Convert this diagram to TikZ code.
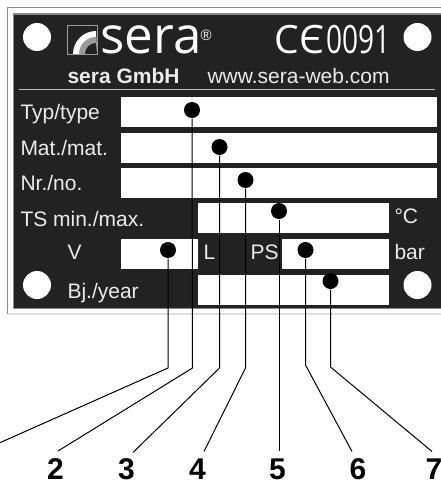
\documentclass[tikz,border=0pt]{standalone}
\usepackage{fontspec}
\setmainfont{Liberation Sans}
\newfontfamily\logofont{Open Sans}
\usetikzlibrary{positioning}
\definecolor{platecol}{HTML}{222222}
\definecolor{framecol}{HTML}{8A8A8A}
\definecolor{logocol}{HTML}{9A9A9A}
\begin{document}
\begin{tikzpicture}[
   x=1pt, y=-1pt, line width=1pt,
   plate/.style = {draw=framecol, line width=1.2pt, fill=platecol},
   field/.style = {rectangle, draw=none, fill=white, inner sep=0pt, anchor=north west},
   hole/.style = {circle, fill=white, inner sep=0pt, minimum size=28pt},
   dot/.style = {circle, fill=black, inner sep=0pt, minimum size=16pt},
   tag/.style = {anchor=base west, inner sep=0pt, text=white!92!black,
                 font=\fontsize{21}{24}\selectfont},
   num/.style = {anchor=base, inner sep=0pt, font=\fontsize{30}{30}\selectfont\bfseries}]
  \useasboundingbox (0,0) rectangle (441,482);
  % plate
  \draw[framecol, line width=0.8pt] (441,7.5) -- (7.5,7.5) -- (7.5,314);
  \draw[black!12, line width=1.2pt] (7.5,314) -- (441,314);
  \draw[plate] (443,14) -- (13.5,14) -- (13.5,308.5) -- (443,308.5);
  \draw[white!75!black, line width=1.6pt] (19,89.5) -- (435,89.5);
  \node[hole] (hole nw) at (37,37) {};
  \node[hole] (hole ne) at (417.5,37) {};
  \node[hole] (hole sw) at (37,285) {};
  \node[hole] (hole se) at (417.5,285) {};

  % logo
  \begin{scope}
    \clip (67,25) rectangle (97,54);
    \fill[white] (73,54) arc[start angle=180, end angle=270, radius=23] -- (97,54) -- cycle;
    \fill[logocol] (79,54) arc[start angle=180, end angle=270, radius=17] -- (97,54) -- cycle;
    \fill[platecol] (85,54) arc[start angle=180, end angle=270, radius=11] -- (97,54) -- cycle;
  \end{scope}
  \draw[logocol, line width=1pt] (67,25) rectangle (97,54);
  \node[anchor=base west, inner sep=0pt, text=white, font=\logofont\fontsize{51}{56}\selectfont]
       (logo) at (100,53.5) {sera};
  \node[anchor=base west, inner sep=0pt, text=white, font=\fontsize{15}{16}\selectfont]
       (regd) at (200,40) {®};
  \node[anchor=base west, inner sep=0pt, text=white, font=\logofont\fontsize{39}{44}\selectfont]
       (cemark) at (274,53.5) {CЄ};
  \node[anchor=base west, inner sep=0pt, text=white, font=\logofont\fontsize{39}{44}\selectfont]
       (approval) at (326,53.5) {\scalebox{0.72}[1]{0091}};
  \node[tag, font=\fontsize{21}{24}\selectfont\bfseries] (maker) at (67,83) {sera GmbH};
  \node[tag] (web) at (207,83) {www.sera-web.com};

  % fields
  \node[field, minimum width=316pt, minimum height=30pt] (typ) at (120,96) {};
  \node[field, minimum width=316pt, minimum height=30pt] (mat) at (120,132) {};
  \node[field, minimum width=316pt, minimum height=30pt] (nr) at (120,167) {};
  \node[field, minimum width=191pt, minimum height=30pt] (ts) at (197,202) {};
  \node[field, minimum width=77pt, minimum height=30pt] (vol) at (120,238) {};
  \node[field, minimum width=107pt, minimum height=30pt] (ps) at (281,238) {};
  \node[field, minimum width=191pt, minimum height=30pt] (bj) at (197,274) {};

  \node[tag] (typ label) at (20,119) {Typ/type};
  \node[tag] (mat label) at (20,155) {Mat./mat.};
  \node[tag] (nr label) at (20,190) {Nr./no.};
  \node[tag] (ts label) at (20,226) {TS min./max.};
  \node[tag] (vol label) at (67,259) {V};
  \node[tag] (vol unit) at (203,259) {L};
  \node[tag] (ps label) at (250,259) {PS};
  \node[tag] (ts unit) at (394,223) {°C};
  \node[tag] (ps unit) at (394,259) {bar};
  \node[tag] (bj label) at (67,298) {Bj./year};

  % pointers
  \node[dot] (dot1) at (168,250) {};
  \node[dot] (dot2) at (192,110) {};
  \node[dot] (dot3) at (219.5,147) {};
  \node[dot] (dot4) at (245.5,180) {};
  \node[dot] (dot5) at (279,211) {};
  \node[dot] (dot6) at (305.5,250) {};
  \node[dot] (dot7) at (330.5,281) {};

  \coordinate (bend1) at (168,368);
  \coordinate (bend2) at (192.5,368);
  \coordinate (bend3) at (219.5,368);
  \coordinate (bend4) at (245.5,368);
  \coordinate (bend6) at (305.5,365);
  \coordinate (bend7) at (330.5,367);
  \coordinate (end1) at (-3,444);

  \node[num] (no2) at (55.5,479) {2};
  \node[num] (no3) at (126.5,479) {3};
  \node[num] (no4) at (197.5,479) {4};
  \node[num] (no5) at (277.5,479) {5};
  \node[num] (no6) at (358,479) {6};
  \node[num] (no7) at (434,479) {7};
  \coordinate (end2) at (58,451);
  \coordinate (end3) at (133,452.5);
  \coordinate (end4) at (204,451.5);
  \coordinate (end5) at (279,451);
  \coordinate (end6) at (352,451.5);
  \coordinate (end7) at (432,451.5);

  \draw (dot1) -- (bend1) -- (end1);
  \draw (dot2) -- (bend2) -- (end2);
  \draw (dot3) -- (bend3) -- (end3);
  \draw (dot4) -- (bend4) -- (end4);
  \draw (dot5) -- (end5);
  \draw (dot6) -- (bend6) -- (end6);
  \draw (dot7) -- (bend7) -- (end7);
\end{tikzpicture}
\end{document}
